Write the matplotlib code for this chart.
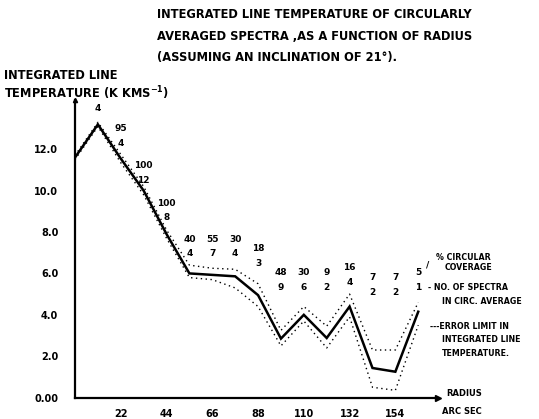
import numpy as np
import matplotlib
matplotlib.use('Agg')
import matplotlib.pyplot as plt

plt.rcParams['font.family'] = ['DejaVu Sans']
plt.rcParams['font.weight'] = 'bold'

# radius (arc sec) and integrated line temperature (K km/s)
radius = [0, 11, 22, 33, 44, 55, 66, 77, 88, 99, 110, 121, 132, 143, 154, 165]
temp = [11.6, 13.2, 11.55, 10.0, 7.9, 6.0, 5.93, 5.86, 4.95, 2.85, 4.0, 2.88, 4.4, 1.43, 1.25, 4.15]
temp_upper = [11.7, 13.3, 11.75, 10.2, 8.1, 6.4, 6.25, 6.2, 5.5, 3.25, 4.4, 3.45, 5.0, 2.3, 2.3, 4.6]
temp_lower = [11.5, 13.1, 11.35, 9.8, 7.7, 5.8, 5.7, 5.3, 4.4, 2.5, 3.7, 2.4, 3.9, 0.5, 0.35, 3.5]

# % circular coverage / no. of spectra, for radius 11 ... 165
coverage = ['', '95', '100', '100', '40', '55', '30', '18', '48', '30', '9', '16', '7', '7', '5']
n_spectra = ['4', '4', '12', '8', '4', '7', '4', '3', '9', '6', '2', '4', '2', '2', '1']

xticks = [22, 44, 66, 88, 110, 132, 154]
yticks = [0, 2, 4, 6, 8, 10, 12]
yticklabels = ['0.00', '2.0', '4.0', '6.0', '8.0', '10.0', '12.0']

# where the number pairs sit (bottom number, in K km/s units)
label_y = [13.99, 12.3, 10.5, 8.68, 6.94, 6.94, 6.94, 6.5, 5.34, 5.34, 5.34, 5.58, 5.1, 5.1, 5.34]

fig = plt.figure(figsize=(5.39, 4.19), dpi=100)
ax = fig.add_axes([75/539, 1-397.6/419, (438-75)/539, (397.6-100)/419])
ax.set_xlim(0, 174.5)
ax.set_ylim(0, 14.38)

ax.plot(radius, temp, color='k', lw=1.8, solid_joinstyle='miter')
ax.plot(radius, temp_upper, color='k', lw=1.0, ls=(0, (1, 2.5)))
ax.plot(radius, temp_lower, color='k', lw=1.0, ls=(0, (1, 2.5)))

for sp in ['top', 'right']:
    ax.spines[sp].set_visible(False)
ax.spines['left'].set_linewidth(1.6)
ax.spines['bottom'].set_linewidth(1.6)
ax.plot(1, 0, '>k', ms=4, transform=ax.transAxes, clip_on=False)
ax.plot(0, 1, '^k', ms=3, transform=ax.transAxes, clip_on=False)

ax.set_xticks(xticks)
ax.set_xticklabels([str(t) for t in xticks], fontsize=7, fontweight='bold')
ax.set_yticks(yticks)
ax.set_yticklabels(yticklabels, fontsize=7, fontweight='bold')
ax.tick_params(length=0)
ax.tick_params(axis='x', pad=8)
ax.tick_params(axis='y', pad=12)

for i in range(len(n_spectra)):
    r = radius[i + 1]
    ax.text(r, label_y[i], n_spectra[i], ha='center', va='center', fontsize=6.5, clip_on=False)
    if coverage[i]:
        ax.text(r, label_y[i] + 0.7, coverage[i], ha='center', va='center', fontsize=6.5, clip_on=False)

ax.text(169.5, 6.4, '/', ha='center', va='center', fontsize=6.5)

# legend notes on the right
fig.text(436/539, 1-257/419, '% CIRCULAR', fontsize=5.7, va='center')
fig.text(445/539, 1-267/419, 'COVERAGE', fontsize=5.7, va='center')
fig.text(428/539, 1-287/419, '- NO. OF SPECTRA', fontsize=5.7, va='center')
fig.text(442/539, 1-301/419, 'IN CIRC. AVERAGE', fontsize=5.7, va='center')
fig.text(430/539, 1-326/419, '---ERROR LIMIT IN', fontsize=5.7, va='center')
fig.text(442/539, 1-340/419, 'INTEGRATED LINE', fontsize=5.7, va='center')
fig.text(442/539, 1-353/419, 'TEMPERATURE.', fontsize=5.7, va='center')
fig.text(446/539, 1-393/419, 'RADIUS', fontsize=6, va='center')
fig.text(442/539, 1-411/419, 'ARC SEC', fontsize=6, va='center')

# title and y label
fig.text(157/539, 1-15/419, 'INTEGRATED LINE TEMPERATURE OF CIRCULARLY', fontsize=8.3, va='center')
fig.text(157/539, 1-37/419, 'AVERAGED SPECTRA ,AS A FUNCTION OF RADIUS', fontsize=8.3, va='center')
fig.text(157/539, 1-58/419, '(ASSUMING AN INCLINATION OF 21°).', fontsize=8.3, va='center')
fig.text(4/539, 1-75/419, 'INTEGRATED LINE', fontsize=8.3, va='center')
fig.text(4/539, 1-93/419, 'TEMPERATURE (K KMS$\\mathbf{^{-1}}$)', fontsize=8.3, va='center')

fig.savefig('out.png', dpi=100)
